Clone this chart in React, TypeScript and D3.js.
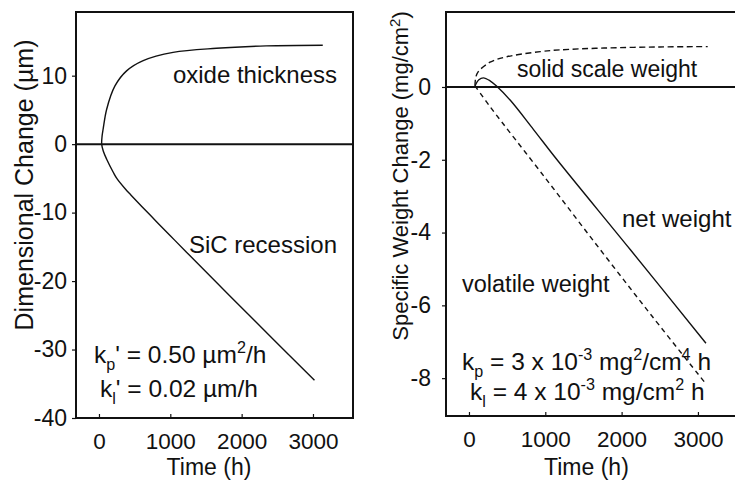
import { useRef, useEffect } from "react";
import * as d3 from "d3";

// ---- data ----
const timeTicks = [0, 1000, 2000, 3000];
const dimTicks = [10, 0, -10, -20, -30, -40];
const weightTicks = [0, -2, -4, -6, -8];

// left panel: [time h, µm]; both curves start at the same vertex
const oxideThickness: [number, number][] = [
  [38, 0], [44, 1.2], [60, 2.3], [108, 5.1], [224, 8.5], [387, 10.7],
  [620, 12.2], [1039, 13.4], [1646, 14.0], [2345, 14.35], [3137, 14.45],
];
const sicRecession: [number, number][] = [
  [38, 0], [60, -1.0], [108, -2.2], [200, -4.1], [250, -5.0], [370, -6.55],
  [450, -7.45], [600, -9.1], [800, -11.25], [1000, -13.38], [1227, -15.78],
  [1832, -22.13], [2400, -28.05], [3021, -34.5],
];

// right panel: [time h, mg/cm²]
const solidScaleWeight: [number, number][] = [
  [79, 0.03], [88, 0.25], [122, 0.42], [276, 0.68], [496, 0.83], [934, 0.97],
  [1197, 1.02], [1770, 1.07], [2500, 1.1], [3128, 1.11],
];
const netWeight: [number, number][] = [
  [79, 0.03], [130, 0.2], [188, 0.25], [276, 0.17], [364, 0.02], [539, -0.36],
  [846, -1.17], [1154, -2.0], [2118, -4.48], [3105, -7.04],
];
const volatileWeight: [number, number][] = [
  [79, 0.03], [276, -0.54], [1000, -2.5], [1724, -4.48], [2400, -6.3], [3083, -8.1],
];

const FONT = "'Liberation Sans', Arial, Helvetica, sans-serif";

type Seg = { t: string; shift?: number; small?: boolean };

function richText(
  g: d3.Selection<SVGGElement, unknown, null, undefined>,
  x: number,
  y: number,
  segs: Seg[],
  anchor = "start",
  size = 24
) {
  const txt = g
    .append("text")
    .attr("x", x)
    .attr("y", y)
    .attr("text-anchor", anchor)
    .attr("font-family", FONT)
    .attr("font-size", size)
    .attr("fill", "#111");
  let cur = 0;
  segs.forEach((s) => {
    const shift = s.shift ?? 0;
    txt
      .append("tspan")
      .attr("dy", shift - cur)
      .attr("font-size", s.small ? size * 0.66 : size)
      .text(s.t);
    cur = shift;
  });
  return txt;
}

export default function App() {
  const svgRef = useRef<SVGSVGElement>(null);

  useEffect(() => {
    if (!svgRef.current) return;
    const svg = d3.select(svgRef.current);
    svg.selectAll("*").remove();

    const panel = (
      frame: { left: number; right: number; top: number; bottom: number },
      xDomain: [number, number],
      yDomain: [number, number],
      yTicks: number[],
      yPad: number
    ) => {
      const x = d3.scaleLinear().domain(xDomain).range([frame.left, frame.right]);
      const y = d3.scaleLinear().domain(yDomain).range([frame.bottom, frame.top]);
      const g = svg.append("g");

      // frame
      g.append("rect")
        .attr("x", frame.left)
        .attr("y", frame.top)
        .attr("width", frame.right - frame.left)
        .attr("height", frame.bottom - frame.top)
        .attr("fill", "none")
        .attr("stroke", "#111")
        .attr("stroke-width", 2);

      // y axis (ticks outward)
      const ya = g
        .append("g")
        .attr("transform", `translate(${frame.left},0)`)
        .call(d3.axisLeft(y).tickValues(yTicks).tickSize(4).tickPadding(yPad));
      ya.select(".domain").remove();
      ya.selectAll(".tick line").attr("stroke", "#111").attr("stroke-width", 1.2);
      ya.selectAll(".tick text")
        .attr("font-family", FONT)
        .attr("font-size", 23)
        .attr("fill", "#111")
        .text((d) => String(d));

      // x axis (ticks inward)
      const xa = g
        .append("g")
        .attr("transform", `translate(0,${frame.bottom})`)
        .call(d3.axisBottom(x).tickValues(timeTicks).tickSize(-4).tickPadding(15));
      xa.select(".domain").remove();
      xa.selectAll(".tick line").attr("stroke", "#111").attr("stroke-width", 1.2);
      xa.selectAll(".tick text")
        .attr("font-family", FONT)
        .attr("font-size", 22.5)
        .attr("fill", "#111")
        .text((d) => String(d));

      // zero line
      g.append("line")
        .attr("x1", frame.left)
        .attr("x2", frame.right)
        .attr("y1", y(0))
        .attr("y2", y(0))
        .attr("stroke", "#111")
        .attr("stroke-width", 2);

      // x title
      g.append("text")
        .attr("x", (x(0) + x(3000)) / 2 + 3)
        .attr("y", 475)
        .attr("text-anchor", "middle")
        .attr("font-family", FONT)
        .attr("font-size", 23)
        .attr("fill", "#111")
        .text("Time (h)");

      const line = d3
        .line<[number, number]>()
        .x((d) => x(d[0]))
        .y((d) => y(d[1]))
        .curve(d3.curveCatmullRom.alpha(0.5));

      const curve = (data: [number, number][], dash?: string) =>
        g.append("path")
          .datum(data)
          .attr("d", line)
          .attr("fill", "none")
          .attr("stroke", "#111")
          .attr("stroke-width", 1.4)
          .attr("stroke-dasharray", dash ?? null);

      return { g, x, y, curve };
    };

    // ---- left panel ----
    const L = panel({ left: 76, right: 353, top: 12, bottom: 418 }, [-322, 3561], [-40, 19.3], dimTicks, 5);
    // oxide and recession meet at a smooth vertex: draw them as one curve
    L.curve([...sicRecession.slice().reverse(), ...oxideThickness.slice(1)]);

    L.g.append("text")
      .attr("transform", "translate(33,185) rotate(-90)")
      .attr("text-anchor", "middle")
      .attr("font-family", FONT)
      .attr("font-size", 25)
      .attr("fill", "#111")
      .text("Dimensional Change (µm)");

    richText(L.g, 337, 83, [{ t: "oxide thickness" }], "end");
    richText(L.g, 337, 253, [{ t: "SiC recession" }], "end");
    richText(L.g, 94, 363, [
      { t: "k" }, { t: "p", small: true, shift: 7 }, { t: "' = 0.50 µm" },
      { t: "2", small: true, shift: -10 }, { t: "/h" },
    ], "start", 24.5);
    richText(L.g, 100, 397, [
      { t: "k" }, { t: "l", small: true, shift: 7 }, { t: "' = 0.02 µm/h" },
    ], "start", 24.5);

    // ---- right panel ----
    const R = panel({ left: 446, right: 738, top: 12, bottom: 416 }, [-301, 3525], [-9.04, 2.06], weightTicks, 11);
    R.curve(solidScaleWeight, "6,3.5");
    R.curve(volatileWeight, "5,4");
    R.curve(netWeight);

    const rt = R.g.append("text")
      .attr("transform", "translate(408,176) rotate(-90)")
      .attr("text-anchor", "middle")
      .attr("font-family", FONT)
      .attr("font-size", 22)
      .attr("fill", "#111");
    rt.append("tspan").text("Specific Weight Change (mg/cm");
    rt.append("tspan").attr("dy", -8).attr("font-size", 15).text("2");
    rt.append("tspan").attr("dy", 8).text(")");

    richText(R.g, 517, 77, [{ t: "solid scale weight" }], "start", 23);
    richText(R.g, 622, 227, [{ t: "net weight" }]);
    richText(R.g, 462, 292, [{ t: "volatile weight" }], "start", 23.5);
    richText(R.g, 462, 370, [
      { t: "k" }, { t: "p", small: true, shift: 7 }, { t: " = 3 x 10" },
      { t: "-3", small: true, shift: -10 }, { t: " mg" },
      { t: "2", small: true, shift: -10 }, { t: "/cm" },
      { t: "4", small: true, shift: -10 }, { t: " h" },
    ], "start", 24.5);
    richText(R.g, 470, 400, [
      { t: "k" }, { t: "l", small: true, shift: 7 }, { t: " = 4 x 10" },
      { t: "-3", small: true, shift: -10 }, { t: " mg/cm" },
      { t: "2", small: true, shift: -10 }, { t: " h" },
    ], "start", 24.5);
  }, []);

  return (
    <div style={{ position: "absolute", left: 0, top: 0, width: 735, height: 480, background: "#fff" }}>
      <svg ref={svgRef} width={735} height={480} style={{ display: "block" }} />
    </div>
  );
}
